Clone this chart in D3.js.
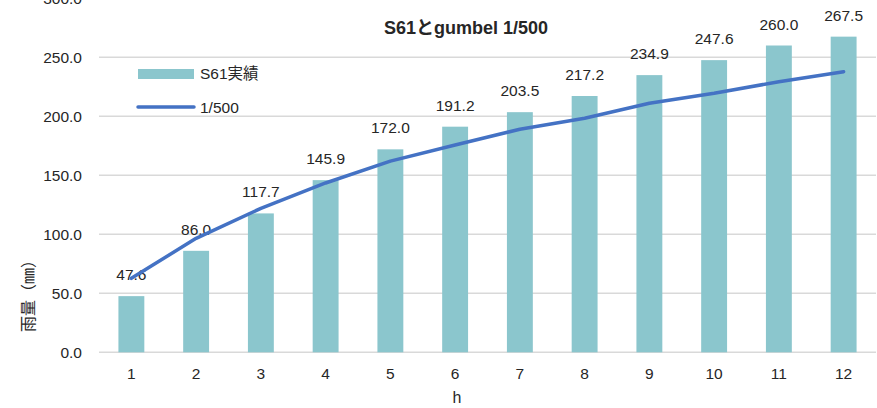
<!DOCTYPE html>
<html>
<head>
<meta charset="utf-8">
<script src="https://cdn.jsdelivr.net/npm/d3@7"></script>
<style>
  html, body { margin: 0; padding: 0; background: #fff; }
  svg { display: block; }
  text { font-family: "Liberation Sans", "Noto Sans CJK JP", sans-serif; fill: #262626; }
</style>
</head>
<body>
<svg id="chart" width="877" height="408"></svg>
<script>
// Hours (x categories)
const hours = [1, 2, 3, 4, 5, 6, 7, 8, 9, 10, 11, 12];
// S61 observed cumulative rainfall (mm)
const s61Values = [47.6, 86.0, 117.7, 145.9, 172.0, 191.2, 203.5, 217.2, 234.9, 247.6, 260.0, 267.5];
// Gumbel 1/500 probability rainfall (mm)
const gumbelValues = [62.7, 96.6, 122.0, 143.5, 162.0, 175.7, 189.0, 198.3, 211.0, 219.5, 229.3, 237.8];
// Y-axis ticks
const yTicks = [0, 50, 100, 150, 200, 250, 300];

const chartTitle = "S61とgumbel 1/500";
const seriesNames = ["S61実績", "1/500"];
const yTitle = "雨量（㎜）";
const xTitle = "h";

const barColor = "#8bc6cd";
const lineColor = "#4472c4";
const gridColor = "#d9d9d9";

const svg = d3.select("#chart");
const plot = { left: 99, right: 876, top: -1.7, bottom: 352.3 };

const x = d3.scaleBand()
  .domain(hours)
  .range([plot.left, plot.right])
  .paddingInner(0.6)
  .paddingOuter(0.3);

const y = d3.scaleLinear()
  .domain([0, 300])
  .range([plot.bottom, plot.top]);

// Gridlines
svg.append("g")
  .selectAll("line")
  .data(yTicks)
  .join("line")
  .attr("x1", plot.left)
  .attr("x2", plot.right)
  .attr("y1", d => y(d))
  .attr("y2", d => y(d))
  .attr("stroke", gridColor)
  .attr("stroke-width", 1.5);

// Y tick labels
const yAxis = d3.axisLeft(y).tickValues(yTicks).tickFormat(d3.format(".1f")).tickSize(0).tickPadding(0);
const gy = svg.append("g").attr("transform", `translate(82,0)`).call(yAxis);
gy.select(".domain").remove();
gy.selectAll("text")
  .attr("font-size", 15.5)
  .attr("fill", "#262626")
  .style("font-family", '"Liberation Sans", sans-serif');

// X tick labels
const xAxis = d3.axisBottom(x).tickSize(0).tickPadding(0);
const gx = svg.append("g").attr("transform", `translate(0,368)`).call(xAxis);
gx.select(".domain").remove();
gx.selectAll("text")
  .attr("font-size", 15.5)
  .attr("fill", "#262626")
  .style("font-family", '"Liberation Sans", sans-serif');

// Bars
const barData = hours.map((h, i) => ({ h, v: s61Values[i] }));
svg.append("g")
  .selectAll("rect")
  .data(barData)
  .join("rect")
  .attr("x", d => x(d.h))
  .attr("width", x.bandwidth())
  .attr("y", d => y(d.v))
  .attr("height", d => y(0) - y(d.v))
  .attr("fill", barColor);

// Bar value labels
svg.append("g")
  .selectAll("text")
  .data(barData)
  .join("text")
  .attr("x", d => x(d.h) + x.bandwidth() / 2)
  .attr("y", d => y(d.v) - 16)
  .attr("text-anchor", "middle")
  .attr("font-size", 15.5)
  .text(d => d.v.toFixed(1));

// Gumbel line
const lineData = hours.map((h, i) => ({ h, v: gumbelValues[i] }));
svg.append("path")
  .datum(lineData)
  .attr("fill", "none")
  .attr("stroke", lineColor)
  .attr("stroke-width", 3.5)
  .attr("stroke-linecap", "round")
  .attr("stroke-linejoin", "round")
  .attr("d", d3.line().x(d => x(d.h) + x.bandwidth() / 2).y(d => y(d.v)));

// Title
svg.append("text")
  .attr("x", 466)
  .attr("y", 34)
  .attr("text-anchor", "middle")
  .attr("font-size", 18)
  .attr("font-weight", "bold")
  .text(chartTitle);

// Legend
const legend = svg.append("g");
legend.append("rect")
  .attr("x", 138).attr("y", 69).attr("width", 56).attr("height", 10)
  .attr("fill", barColor);
legend.append("text")
  .attr("x", 200).attr("y", 79)
  .attr("font-size", 15.5)
  .text(seriesNames[0]);
legend.append("line")
  .attr("x1", 138).attr("x2", 194).attr("y1", 107).attr("y2", 107)
  .attr("stroke", lineColor).attr("stroke-width", 3.5).attr("stroke-linecap", "round");
legend.append("text")
  .attr("x", 200).attr("y", 113)
  .attr("font-size", 15.5)
  .text(seriesNames[1]);

// Axis titles
svg.append("text")
  .attr("transform", "translate(34,292) rotate(-90)")
  .attr("text-anchor", "middle")
  .attr("font-size", 16)
  .style("font-family", '"Noto Sans CJK JP", sans-serif')
  .text(yTitle);

svg.append("text")
  .attr("x", 457)
  .attr("y", 403)
  .attr("text-anchor", "middle")
  .attr("font-size", 16)
  .text(xTitle);
</script>
</body>
</html>
